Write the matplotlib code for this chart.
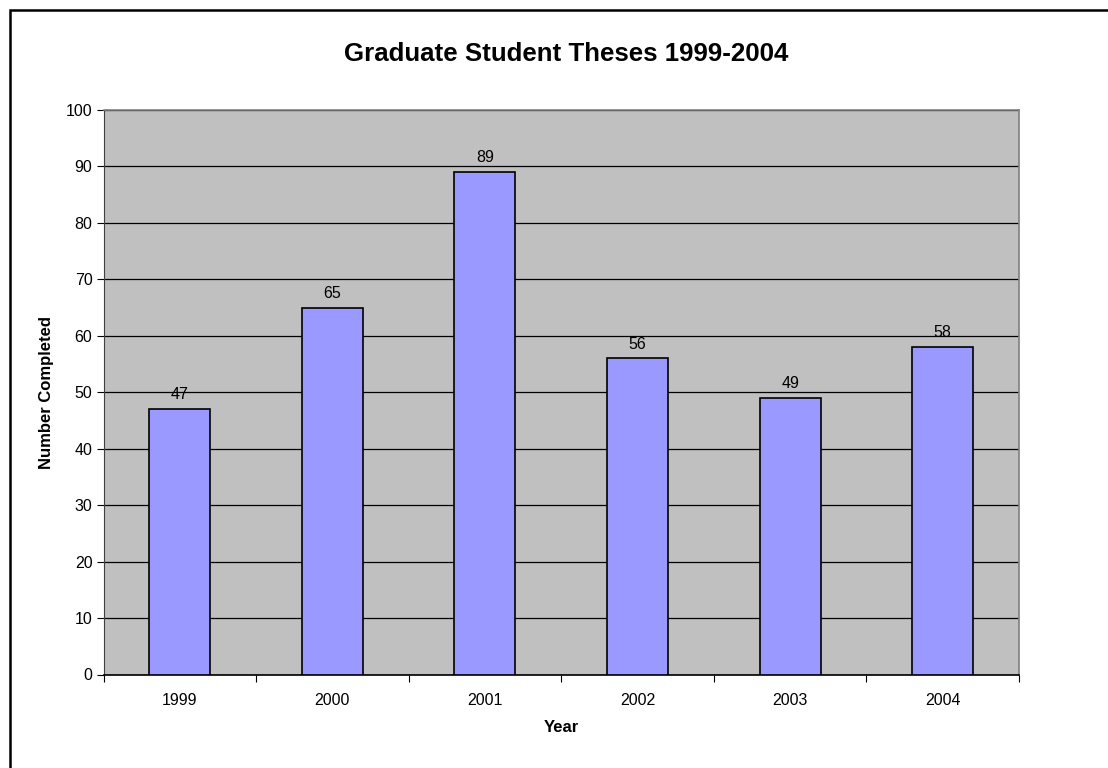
import matplotlib
matplotlib.use('Agg')
import matplotlib.pyplot as plt
from matplotlib.patches import Rectangle

years = ["1999", "2000", "2001", "2002", "2003", "2004"]
theses = [47, 65, 89, 56, 49, 58]

plt.rcParams["font.family"] = ["Liberation Sans", "DejaVu Sans"]

W, H = 1108, 768
fig = plt.figure(figsize=(W / 100, H / 100), dpi=100)
fig.patch.set_facecolor("white")

# outer chart frame (runs off the right/bottom edge like the original)
fig.patches.append(Rectangle((9.5 / W, -0.1), 1.2, 1.1 - 9.5 / H, transform=fig.transFigure,
                             fill=False, edgecolor="black", linewidth=1.8, clip_on=False))

left, right, top, bottom = 103.5, 1019, 110, 674.5
ax = fig.add_axes([left / W, 1 - bottom / H, (right - left) / W, (bottom - top) / H])
ax.set_facecolor("#C0C0C0")

x = list(range(len(years)))
ax.bar(x, theses, width=0.4, color="#9999FF", edgecolor="black", linewidth=1.2, zorder=3)
for xi, v in zip(x, theses):
    ax.text(xi, v + 1.2, str(v), ha="center", va="bottom", fontsize=11.5, zorder=4)

ax.set_xlim(-0.5, len(years) - 0.5)
ax.set_ylim(0, 100)
ax.set_yticks(range(0, 101, 10))
ax.yaxis.grid(True, color="black", linewidth=0.9, zorder=1)
ax.set_axisbelow(True)

# ticks at category boundaries, labels centred under bars
ax.set_xticks([i - 0.5 for i in range(len(years) + 1)])
ax.set_xticklabels([])
ax.set_xticks(x, minor=True)
ax.set_xticklabels(years, minor=True, fontsize=11.5)
ax.tick_params(axis="x", which="major", direction="out", length=5, width=0.8)
ax.tick_params(axis="x", which="minor", length=0, pad=13)
ax.tick_params(axis="y", direction="out", length=5, width=0.8, labelsize=11.5, pad=3)

for s in ["top", "right"]:
    ax.spines[s].set_color("#808080")
    ax.spines[s].set_linewidth(1.2)
ax.spines["left"].set_color("#404040")
ax.spines["bottom"].set_color("black")
ax.spines["bottom"].set_linewidth(1.2)

ax.set_xlabel("Year", fontsize=12, fontweight="bold", va="center")
ax.xaxis.set_label_coords(0.5, -(727 - bottom) / (bottom - top))
ax.set_ylabel("Number Completed", fontsize=12, fontweight="bold", va="center")
ax.yaxis.set_label_coords(-(left - 47) / (right - left), 0.5)

fig.text(566 / W, 1 - 54 / H, "Graduate Student Theses 1999-2004",
         ha="center", va="center", fontsize=18.6, fontweight="bold")

fig.savefig("out.png", dpi=100)
